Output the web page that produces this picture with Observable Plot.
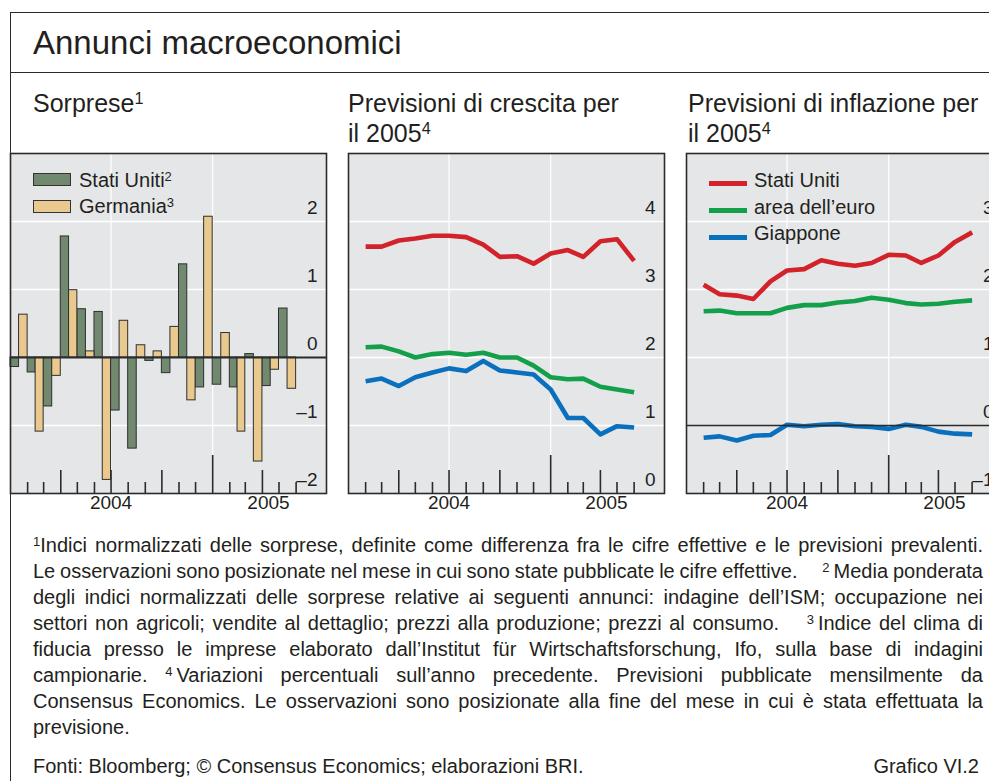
<!DOCTYPE html>
<html>
<head>
<meta charset="utf-8">
<script src="https://cdn.jsdelivr.net/npm/d3@7"></script>
<script src="https://cdn.jsdelivr.net/npm/@observablehq/plot@0.6"></script>
<style>
html, body { margin:0; padding:0; width:989px; height:781px; overflow:hidden; background:#fff;
  font-family:"Liberation Sans", Arial, sans-serif; color:#231f20; }
.abs { position:absolute; white-space:nowrap; }
#frame { position:absolute; left:10px; top:12px; width:1200px; height:1000px;
  border-left:1.5px solid #2b2b2b; border-top:1.5px solid #2b2b2b; box-sizing:border-box; }
#sep { position:absolute; left:10px; top:71.5px; width:1200px; height:0; border-top:1.5px solid #2b2b2b; }
.title { font-size:33px; line-height:1; }
.sub { font-size:25px; line-height:30px; }
.leg { font-size:20px; line-height:1; }
.sup { font-size:0.65em; position:relative; top:-0.5em; line-height:0; }
.fn { font-size:20px; line-height:26px; height:26px; }
.swatch { position:absolute; width:38px; height:13px; border:1px solid #333; box-sizing:border-box; }
.lswatch { position:absolute; width:38px; height:5px; }
.pnl { position:absolute; width:320px; height:372px; }
.pnl svg { overflow:visible; max-width:none !important; width:320px !important; height:372px !important; }
</style>
</head>
<body>
<div id="frame"></div>
<div id="sep"></div>
<div class="abs title" style="left:33px; top:26px;">Annunci macroeconomici</div>
<div class="abs sub" style="left:33px; top:88px;">Sorprese<span class="sup">1</span></div>
<div class="abs sub" style="left:348px; top:88px;">Previsioni di crescita per<br>il 2005<span class="sup">4</span></div>
<div class="abs sub" style="left:688px; top:88px;">Previsioni di inflazione per<br>il 2005<span class="sup">4</span></div>

<div id="p1" class="pnl" style="left:8px; top:151px;"></div>
<div id="p2" class="pnl" style="left:346px; top:151px;"></div>
<div id="p3" class="pnl" style="left:684px; top:151px;"></div>

<div id="legends"></div>
<div id="notes"></div>

<script>
// ---------- DATA ----------
const months = ["2004-01","2004-02","2004-03","2004-04","2004-05","2004-06","2004-07","2004-08","2004-09",
  "2004-10","2004-11","2004-12","2005-01","2005-02","2005-03","2005-04","2005-05"];

// Sorprese (normalised surprise indices), month of publication
const surpriseUS = [-0.14, -0.22, -0.72, 1.78, 0.71, 0.67, -0.78, -1.34, -0.05, -0.23, 1.37, -0.44, -0.40, -0.44, 0.05, -0.42, 0.72];
const surpriseDE = [0.63, -1.09, -0.27, 0.99, 0.09, -1.80, 0.54, 0.18, 0.09, 0.45, -0.63, 2.07, 0.36, -1.09, -1.53, -0.18, -0.46];

// Previsioni di crescita per il 2005 (end of month)
const growthUS = [3.63, 3.63, 3.72, 3.75, 3.79, 3.79, 3.77, 3.66, 3.48, 3.49, 3.38, 3.53, 3.58, 3.48, 3.71, 3.74, 3.42];
const growthEA = [2.15, 2.16, 2.09, 2.00, 2.05, 2.07, 2.04, 2.07, 2.00, 2.00, 1.88, 1.71, 1.68, 1.69, 1.57, 1.53, 1.49];
const growthJP = [1.65, 1.69, 1.58, 1.71, 1.78, 1.84, 1.80, 1.95, 1.81, 1.78, 1.75, 1.53, 1.11, 1.11, 0.87, 0.99, 0.97];

// Previsioni di inflazione per il 2005 (end of month)
const inflUS = [2.07, 1.93, 1.91, 1.86, 2.12, 2.28, 2.30, 2.43, 2.38, 2.35, 2.39, 2.51, 2.50, 2.39, 2.50, 2.70, 2.84];
const inflEA = [1.68, 1.69, 1.65, 1.65, 1.65, 1.73, 1.77, 1.77, 1.81, 1.83, 1.88, 1.85, 1.80, 1.78, 1.79, 1.82, 1.84];
const inflJP = [-0.18, -0.16, -0.22, -0.15, -0.14, 0.01, -0.01, 0.01, 0.02, -0.01, -0.02, -0.05, 0.01, -0.02, -0.09, -0.12, -0.13];

const yearLabels = ["2004", "2005"];
const yearLabelAt = ["2004-07-01", "2005-04-12"];
const verticalGrid = ["2004-07-01", "2005-01-01"];
const xStart = "2004-01-01", xEnd = "2005-07-26";

const yTicks1 = [-2, -1, 0, 1, 2];
const yTicks2 = [0, 1, 2, 3, 4];
const yTicks3 = [-1, 0, 1, 2, 3];

const barLegend = ["Stati Uniti", "Germania"];
const barLegendNote = ["2", "3"];
const lineLegend = ["Stati Uniti", "area dell\u2019euro", "Giappone"];

// ---------- STYLE ----------
const FONT = "Liberation Sans, Arial, sans-serif";
const INK = "#231f20", BG = "#e5e6e8";
const C_RED = "#d2232a", C_GREEN = "#14a04b", C_BLUE = "#0a70bd";
const C_BAR_US = "#71896f", C_BAR_DE = "#e9c98d";
const FRAME_H = 340;

const monthDate = m => new Date(m + "-01T00:00:00Z");
const xDomain = [new Date(xStart), new Date(xEnd)];
const allTicks = d3.utcMonth.range(new Date("2004-02-01"), new Date("2005-07-01"));
const ticksYear = allTicks.filter(d => d.getUTCMonth() === 0);
const ticksQuarter = allTicks.filter(d => d.getUTCMonth() % 3 === 0 && d.getUTCMonth() !== 0);
const ticksMonth = allTicks.filter(d => d.getUTCMonth() % 3 !== 0);
const fmt = d => d < 0 ? "\u2013" + Math.abs(d) : String(d);

function panel(yDomain, labels, zero, zeroWidth, marks) {
  const grid = d3.range(yDomain[0] + 1, yDomain[1]).filter(v => !(zero && v === 0));
  return Plot.plot({
    width: 320, height: FRAME_H + 32,
    marginLeft: 2, marginRight: 2, marginTop: 2, marginBottom: 30,
    x: {type: "utc", domain: xDomain, axis: null},
    y: {domain: yDomain, axis: null},
    style: {fontFamily: FONT, background: "transparent", overflow: "visible"},
    marks: [
      Plot.frame({fill: BG, stroke: "none"}),
      Plot.ruleY(grid, {stroke: "white", strokeWidth: 1.4}),
      Plot.ruleX(verticalGrid, {x: d => new Date(d), stroke: "white", strokeWidth: 1.2}),
      ...marks,
      ...(zero ? [Plot.ruleY([0], {stroke: "#2b2b2b", strokeWidth: zeroWidth})] : []),
      Plot.tickX(ticksMonth, {x: d => d, insetTop: FRAME_H - 11, stroke: "#2b2b2b", strokeWidth: 1.6}),
      Plot.tickX(ticksQuarter, {x: d => d, insetTop: FRAME_H - 23, stroke: "#2b2b2b", strokeWidth: 1.6}),
      Plot.tickX(ticksYear, {x: d => d, insetTop: FRAME_H - 38, stroke: "#2b2b2b", strokeWidth: 1.6}),
      Plot.frame({stroke: "#2b2b2b", strokeWidth: 1.6}),
      Plot.text(labels, {y: d => d, text: fmt, frameAnchor: "right", textAnchor: "end",
        dx: -9, dy: -14, fontSize: 19, fill: INK}),
      Plot.text(yearLabels, {x: (d, i) => new Date(yearLabelAt[i]), text: d => d,
        frameAnchor: "bottom", dy: 15, fontSize: 19, fill: INK})
    ]
  });
}

// Panel 1: bars
const barsUS = months.map((m, i) => {
  const s = monthDate(m), e = d3.utcMonth.offset(s, 1);
  return {x1: s, x2: new Date((+s + +e) / 2), v: surpriseUS[i]};
});
const barsDE = months.map((m, i) => {
  const s = monthDate(m), e = d3.utcMonth.offset(s, 1);
  return {x1: new Date((+s + +e) / 2), x2: e, v: surpriseDE[i]};
});
document.getElementById("p1").append(panel([-2, 3], yTicks1, true, 2, [
  Plot.rectY(barsUS, {x1: "x1", x2: "x2", y: "v", fill: C_BAR_US, stroke: "#2f2f2f", strokeWidth: 1}),
  Plot.rectY(barsDE, {x1: "x1", x2: "x2", y: "v", fill: C_BAR_DE, stroke: "#2f2f2f", strokeWidth: 1})
]));

// Lines: observation at end of month
const endOf = i => d3.utcMonth.offset(monthDate(months[i]), 1);
const line = (arr, color) => Plot.lineY(arr, {x: (d, i) => endOf(i), y: d => d, stroke: color,
  strokeWidth: 4.6, strokeLinejoin: "round", strokeLinecap: "butt"});

document.getElementById("p2").append(panel([0, 5], yTicks2, false, 0, [
  line(growthUS, C_RED), line(growthEA, C_GREEN), line(growthJP, C_BLUE)
]));
document.getElementById("p3").append(panel([-1, 4], yTicks3, true, 1.5, [
  line(inflUS, C_RED), line(inflEA, C_GREEN), line(inflJP, C_BLUE)
]));

// ---------- LEGENDS ----------
const L = document.getElementById("legends");
const barColors = [C_BAR_US, C_BAR_DE];
barLegend.forEach((t, i) => {
  const sw = document.createElement("div");
  sw.className = "swatch";
  sw.style.cssText = `left:33px; top:${173 + i * 26.5}px; background:${barColors[i]};`;
  L.append(sw);
  const tx = document.createElement("div");
  tx.className = "abs leg";
  tx.style.cssText = `left:79px; top:${170 + i * 26}px;`;
  tx.innerHTML = `${t}<span class="sup">${barLegendNote[i]}</span>`;
  L.append(tx);
});
const lineColors = [C_RED, C_GREEN, C_BLUE];
lineLegend.forEach((t, i) => {
  const sw = document.createElement("div");
  sw.className = "lswatch";
  sw.style.cssText = `left:709px; top:${180.5 + i * 27}px; background:${lineColors[i]};`;
  L.append(sw);
  const tx = document.createElement("div");
  tx.className = "abs leg";
  tx.style.cssText = `left:754px; top:${170 + i * 26.5}px;`;
  tx.textContent = t;
  L.append(tx);
});

// ---------- FOOTNOTES ----------
const S = n => `<span class="sup">${n}</span>`;
const noteLines = [
  `${S(1)}Indici normalizzati delle sorprese, definite come differenza fra le cifre effettive e le previsioni prevalenti.`,
  `Le osservazioni sono posizionate nel mese in cui sono state pubblicate le cifre effettive.\u2003 ${S(2)}\u2009Media ponderata`,
  `degli indici normalizzati delle sorprese relative ai seguenti annunci: indagine dell\u2019ISM; occupazione nei`,
  `settori non agricoli; vendite al dettaglio; prezzi alla produzione; prezzi al consumo.\u2003 ${S(3)}\u2009Indice del clima di`,
  `fiducia presso le imprese elaborato dall\u2019Institut f\u00fcr Wirtschaftsforschung, Ifo, sulla base di indagini`,
  `campionarie. ${S(4)}\u2009Variazioni percentuali sull\u2019anno precedente. Previsioni pubblicate mensilmente da`,
  `Consensus Economics. Le osservazioni sono posizionate alla fine del mese in cui \u00e8 stata effettuata la`,
  `previsione.`
];
const N = document.getElementById("notes");
const NOTE_LEFT = 33, NOTE_W = 950;
noteLines.forEach((h, i) => {
  const d = document.createElement("div");
  d.className = "abs fn";
  d.style.cssText = `left:${NOTE_LEFT}px; top:${532 + i * 26}px;`;
  const sp = document.createElement("span");
  sp.innerHTML = h;
  d.append(sp);
  N.append(d);
  if (i < noteLines.length - 1) {
    const w = sp.getBoundingClientRect().width;
    const spaces = (sp.textContent.match(/ /g) || []).length;
    if (spaces) sp.style.wordSpacing = ((NOTE_W - w) / spaces) + "px";
  }
});
const src = document.createElement("div");
src.className = "abs fn";
src.style.cssText = "left:33px; top:753px;";
src.textContent = "Fonti: Bloomberg; \u00a9 Consensus Economics; elaborazioni BRI.";
N.append(src);
const gr = document.createElement("div");
gr.className = "abs fn";
gr.style.cssText = "left:700px; width:279px; top:753px; text-align:right;";
gr.textContent = "Grafico VI.2";
N.append(gr);
</script>
</body>
</html>
